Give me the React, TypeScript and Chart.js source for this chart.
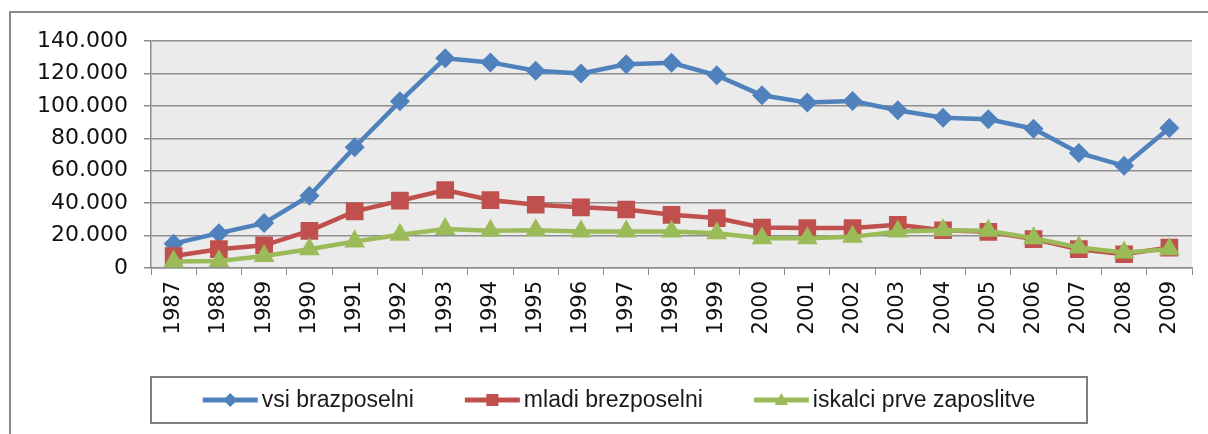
import React, { useEffect, useRef } from "react";
import { Chart, registerables } from "chart.js";

Chart.register(...registerables);

const years = ["1987","1988","1989","1990","1991","1992","1993","1994","1995","1996","1997","1998","1999","2000","2001","2002","2003","2004","2005","2006","2007","2008","2009"];
const vsiBrezposelni = [15000,21500,27700,44600,74500,102800,129300,126800,121600,120000,125700,126600,118800,106500,102000,103000,97300,92700,91700,85900,71000,63000,86300];
const mladiBrezposelni = [7400,11600,14000,22900,34900,41500,48100,41900,39000,37400,36100,32800,30800,25000,24600,24600,26600,23300,22300,17800,11600,8500,12600];
const iskalciPrveZaposlitve = [4000,4300,7400,11600,16300,20500,24000,22900,23300,22500,22500,22500,21500,18400,18400,19200,22500,23300,22900,18400,12600,9500,11600];
const seriesNames = ["vsi brazposelni", "mladi brezposelni", "iskalci prve zaposlitve"];
const yTicksMax = 140000;
const yTickStep = 20000;

const BLUE = "#4F81BD";
const RED = "#C0504D";
const GREEN = "#9BBB59";
const GRID = "#8E8E8E";
const TICK_FONT = "DejaVu Sans";
const LEGEND_FONT = "Liberation Sans";

function fmt(v: number) {
  return String(v).replace(/\B(?=(\d{3})+(?!\d))/g, ".");
}

const framePlugin = {
  id: "frame",
  beforeDraw(chart: any) {
    const { ctx, chartArea } = chart;
    ctx.save();
    ctx.fillStyle = "#ffffff";
    ctx.fillRect(0, 0, chart.width, chart.height);
    ctx.fillStyle = "#EBEBEB";
    ctx.fillRect(chartArea.left, chartArea.top, chartArea.right - chartArea.left, chartArea.bottom - chartArea.top);
    ctx.strokeStyle = "#8A8A8A";
    ctx.lineWidth = 2;
    ctx.strokeRect(10, 12, chart.width + 20, chart.height + 20);
    ctx.restore();
  },
};

function drawMarker(ctx: CanvasRenderingContext2D, style: string, x: number, y: number, r: number, color: string) {
  ctx.fillStyle = color;
  ctx.beginPath();
  if (style === "rectRot") {
    ctx.moveTo(x, y - r);
    ctx.lineTo(x + r, y);
    ctx.lineTo(x, y + r);
    ctx.lineTo(x - r, y);
  } else if (style === "rect") {
    ctx.rect(x - r, y - r, 2 * r, 2 * r);
  } else {
    ctx.moveTo(x, y - r);
    ctx.lineTo(x + r * 0.95, y + r * 0.7);
    ctx.lineTo(x - r * 0.95, y + r * 0.7);
  }
  ctx.closePath();
  ctx.fill();
}

const legendPlugin = {
  id: "boxLegend",
  afterDraw(chart: any) {
    const { ctx } = chart;
    const box = { l: 151, t: 377, r: 1087, b: 423 };
    ctx.save();
    ctx.strokeStyle = "#7F7F7F";
    ctx.lineWidth = 2;
    ctx.strokeRect(box.l, box.t, box.r - box.l, box.b - box.t);
    ctx.font = `23px "${LEGEND_FONT}"`;
    ctx.textBaseline = "middle";
    const lineLen = 55;
    const gap = 4;
    const itemGap = 51;
    const ds = chart.data.datasets;
    const widths = ds.map((d: any) => ctx.measureText(d.label).width);
    const total = widths.reduce((a: number, w: number) => a + lineLen + gap + w, 0) + itemGap * (ds.length - 1);
    let x = (box.l + box.r) / 2 - total / 2;
    const cy = (box.t + box.b) / 2;
    ds.forEach((d: any, i: number) => {
      ctx.strokeStyle = d.borderColor;
      ctx.lineWidth = 5;
      ctx.beginPath();
      ctx.moveTo(x, cy);
      ctx.lineTo(x + lineLen, cy);
      ctx.stroke();
      const ms = d.pointStyle === "rectRot" ? 7 : d.pointStyle === "rect" ? 6 : 7;
      drawMarker(ctx, d.pointStyle, x + lineLen / 2, cy, ms, d.borderColor);
      ctx.fillStyle = "#1a1a1a";
      ctx.fillText(d.label, x + lineLen + gap, cy + 1);
      x += lineLen + gap + widths[i] + itemGap;
    });
    ctx.restore();
  },
};

export default function App() {
  const ref = useRef<HTMLCanvasElement | null>(null);
  useEffect(() => {
    document.body.style.margin = "0";
    if (!ref.current) return;
    const mk = (label: string, data: number[], color: string, style: string, radius: number, order: number) => ({
      label,
      data,
      order,
      borderColor: color,
      backgroundColor: color,
      pointBackgroundColor: color,
      pointBorderColor: color,
      pointBorderWidth: 0,
      borderWidth: 4.5,
      pointStyle: style,
      pointRadius: radius,
      pointHoverRadius: radius,
      tension: 0,
    });
    const chart = new Chart(ref.current, {
      type: "line",
      data: {
        labels: years,
        datasets: [
          mk(seriesNames[0], vsiBrezposelni, BLUE, "rectRot", 10, 2),
          mk(seriesNames[1], mladiBrezposelni, RED, "rect", 12.5, 1),
          mk(seriesNames[2], iskalciPrveZaposlitve, GREEN, "triangle", 12, 0),
        ],
      },
      options: {
        animation: false,
        responsive: false,
        devicePixelRatio: 1,
        layout: { padding: { left: 0, top: 41, right: 16, bottom: 0 } },
        plugins: { legend: { display: false }, tooltip: { enabled: false } },
        scales: {
          x: {
            offset: true,
            grid: { display: true, drawOnChartArea: false, drawTicks: true, tickLength: 7, color: GRID, offset: true },
            border: { display: true, color: GRID, width: 1.5 },
            ticks: {
              minRotation: 90,
              maxRotation: 90,
              autoSkip: false,
              padding: 6,
              color: "#111",
              font: { family: TICK_FONT, size: 21 },
            },
            afterFit: (s: any) => { s.height = 166; },
          },
          y: {
            min: 0,
            max: yTicksMax,
            ticks: {
              stepSize: yTickStep,
              padding: 16,
              color: "#111",
              font: { family: TICK_FONT, size: 22 },
              callback: (v: any) => fmt(Number(v)),
            },
            grid: { color: GRID, lineWidth: 1.5, tickLength: 7, drawTicks: true },
            border: { display: true, color: GRID, width: 1.5 },
            afterFit: (s: any) => { s.width = 151; },
          },
        },
      },
      plugins: [framePlugin, legendPlugin],
    } as any);
    return () => chart.destroy();
  }, []);
  return (
    <div style={{ position: "absolute", left: 0, top: 0, width: 1208, height: 434 }}>
      <canvas ref={ref} width={1208} height={434} style={{ width: 1208, height: 434, display: "block" }} />
    </div>
  );
}
